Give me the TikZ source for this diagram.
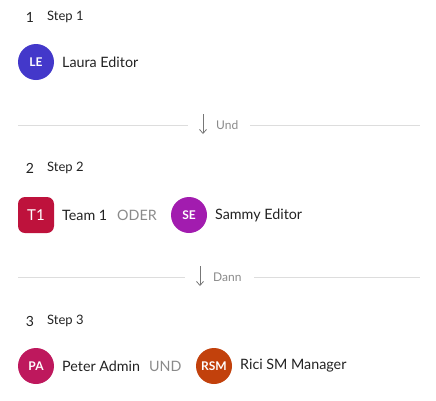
\documentclass[tikz,border=0pt]{standalone}
\usepackage{fontspec}
\setmainfont{Lato}
\usetikzlibrary{arrows.meta}
\definecolor{cLE}{HTML}{4338CA}
\definecolor{cT}{HTML}{BE123C}
\definecolor{cSE}{HTML}{A21CAF}
\definecolor{cPA}{HTML}{BE185D}
\definecolor{cRSM}{HTML}{C2410C}
\definecolor{txt}{HTML}{222222}
\definecolor{muted}{HTML}{8A8A8A}
\definecolor{rule}{HTML}{DDDDDD}
\definecolor{arr}{HTML}{777777}
\begin{document}
\begin{tikzpicture}[x=1pt,y=-1pt,
  avatar/.style={circle,minimum size=36pt,inner sep=0pt,text=white,font=\fontsize{12}{13}\selectfont\bfseries},
  sqavatar/.style={rounded corners=7pt,minimum size=36pt,inner sep=0pt,text=white,font=\fontsize{15}{16}\selectfont},
  pname/.style={anchor=west,inner sep=0pt,text=txt,font=\fontsize{14.3}{16}\selectfont},
  num/.style={anchor=center,inner sep=0pt,text=txt,font=\fontsize{14}{15}\selectfont},
  steplbl/.style={anchor=west,inner sep=0pt,text=txt,font=\fontsize{13}{14}\selectfont},
  op/.style={anchor=west,inner sep=0pt,text=muted,font=\fontsize{14.3}{16}\selectfont},
  divlbl/.style={anchor=west,inner sep=0pt,text=muted,font=\fontsize{12}{13}\selectfont},
  divline/.style={draw=rule,line width=0.8pt},
  darrow/.style={draw=arr,line width=0.8pt,-{Straight Barb[length=4pt,width=7pt]}}
]
\useasboundingbox (0,0) rectangle (436,400);
% Step 1
\node[num] (n1) at (30,17) {1};
\node[steplbl] (s1) at (47,17) {Step 1};
\node[avatar,fill=cLE] (le) at (36,62) {LE};
\node[pname] (len) at (62,62) {Laura Editor};
% Divider 1
\coordinate (d1a) at (18,125);
\coordinate (d1b) at (188,125);
\coordinate (a1t) at (203,114);
\coordinate (a1b) at (203,134);
\node[divlbl] (und) at (216,125) {Und};
\coordinate (d1c) at (250,125);
\coordinate (d1d) at (420,125);
\draw[divline] (d1a) -- (d1b);
\draw[divline] (d1c) -- (d1d);
\draw[darrow] (a1t) -- (a1b);
% Step 2
\node[num] (n2) at (30,168) {2};
\node[steplbl] (s2) at (47,168) {Step 2};
\node[sqavatar,fill=cT] (t1) at (36,215) {T1};
\node[pname] (t1n) at (62,215) {Team 1};
\node[op] (oder) at (117,215) {ODER};
\node[avatar,fill=cSE] (se) at (189,215) {SE};
\node[pname] (sen) at (215,215) {Sammy Editor};
% Divider 2
\coordinate (d2a) at (18,277);
\coordinate (d2b) at (185,277);
\coordinate (a2t) at (200,266);
\coordinate (a2b) at (200,286);
\node[divlbl] (dann) at (213,277) {Dann};
\coordinate (d2c) at (254,277);
\coordinate (d2d) at (420,277);
\draw[divline] (d2a) -- (d2b);
\draw[divline] (d2c) -- (d2d);
\draw[darrow] (a2t) -- (a2b);
% Step 3
\node[num] (n3) at (30,321) {3};
\node[steplbl] (s3) at (47,321) {Step 3};
\node[avatar,fill=cPA] (pa) at (36,366) {PA};
\node[pname] (pan) at (62,366) {Peter Admin};
\node[op] (undop) at (149,366) {UND};
\node[avatar,fill=cRSM] (rsm) at (214,366) {RSM};
\node[pname] (rsmn) at (240,366) {Rici SM Manager};
\end{tikzpicture}
\end{document}
